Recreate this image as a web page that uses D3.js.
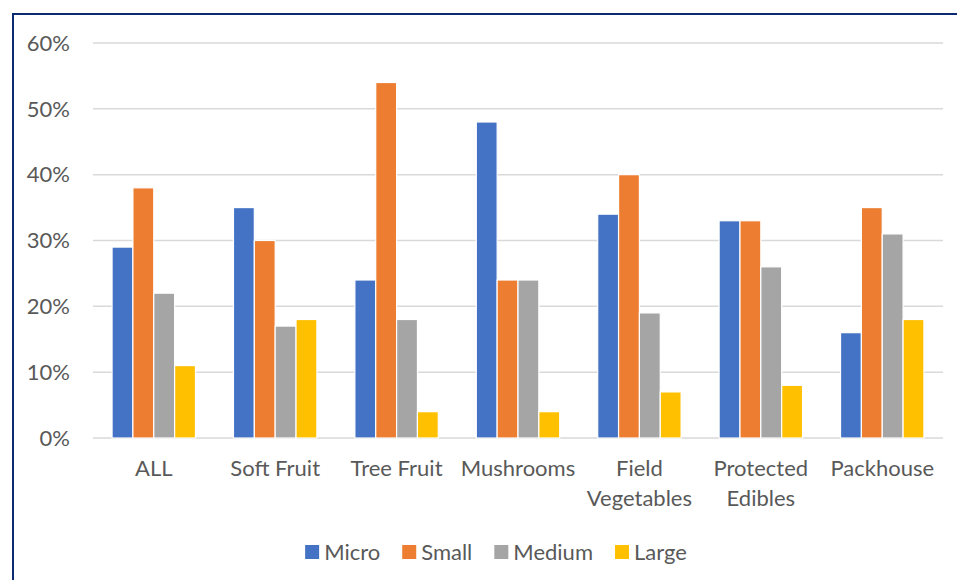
<!DOCTYPE html>
<style>
body {
  margin: 0;
  background: #fff;
}
svg {
  display: block;
  font-family: Lato, "Open Sans", sans-serif;
}
.frame {
  fill: #fff;
  stroke: #0b2a6f;
  stroke-width: 2;
}
.grid line {
  stroke: #d9d9d9;
  stroke-width: 1.5;
}
.label {
  fill: #595959;
  font-size: 22px;
}
.bar {
  stroke: #fff;
  stroke-width: 1.2;
}
</style>
<svg width="957" height="580"></svg>
<script src="https://d3js.org/d3.v7.min.js"></script>
<script>

var categories = ["ALL", "Soft Fruit", "Tree Fruit", "Mushrooms", "Field Vegetables", "Protected Edibles", "Packhouse"],
    seriesNames = ["Micro", "Small", "Medium", "Large"],
    colors = ["#4472c4", "#ed7d31", "#a5a5a5", "#ffc000"],
    micro = [29, 35, 24, 48, 34, 33, 16],
    small = [38, 30, 54, 24, 40, 33, 35],
    medium = [22, 17, 18, 24, 19, 26, 31],
    large = [11, 18, 4, 4, 7, 8, 18],
    yTicks = [0, 10, 20, 30, 40, 50, 60];

var series = [micro, small, medium, large];

var svg = d3.select("svg"),
    plotLeft = 93,
    plotRight = 943,
    plotTop = 43,
    plotBottom = 438;

// outer frame, only left and top edges show in the picture
svg.append("rect")
  .attr("class", "frame")
  .attr("x", 13)
  .attr("y", 14)
  .attr("width", 1000)
  .attr("height", 700);

var y = d3.scaleLinear().domain([0, 60]).range([plotBottom, plotTop]);

var x0 = d3.scaleBand()
  .domain(categories)
  .range([plotLeft, plotRight])
  .paddingInner(0.313)
  .paddingOuter(0.157);

var x1 = d3.scaleBand()
  .domain(d3.range(seriesNames.length))
  .range([0, x0.bandwidth()]);

svg.append("g")
  .attr("class", "grid")
  .selectAll("line")
  .data(yTicks)
  .join("line")
  .attr("x1", plotLeft)
  .attr("x2", plotRight)
  .attr("y1", d => y(d))
  .attr("y2", d => y(d));

svg.append("g")
  .selectAll("text")
  .data(yTicks)
  .join("text")
  .attr("class", "label")
  .attr("x", 70)
  .attr("y", d => y(d))
  .attr("dy", "0.35em")
  .attr("text-anchor", "end")
  .text(d => d + "%");

var groups = svg.append("g")
  .selectAll("g")
  .data(categories)
  .join("g")
  .attr("transform", d => "translate(" + x0(d) + ",0)");

groups.selectAll("rect")
  .data((c, i) => series.map((s, k) => ({ k: k, v: s[i] })))
  .join("rect")
  .attr("class", "bar")
  .attr("x", d => x1(d.k))
  .attr("width", x1.bandwidth())
  .attr("y", d => y(d.v))
  .attr("height", d => y(0) - y(d.v))
  .attr("fill", d => colors[d.k]);

// category labels, two words wrap to two lines where Excel did
var catLabels = svg.append("g")
  .selectAll("text")
  .data(categories)
  .join("text")
  .attr("class", "label")
  .attr("text-anchor", "middle")
  .attr("y", 476);

catLabels.each(function(d) {
  var words = d.split(" "),
      lines = (d == "Field Vegetables" || d == "Protected Edibles") ? words : [d],
      el = d3.select(this),
      cx = x0(d) + x0.bandwidth() / 2;
  lines.forEach((w, i) => {
    el.append("tspan")
      .attr("x", cx)
      .attr("dy", i == 0 ? 0 : 29.5)
      .text(w);
  });
});

// legend
var legend = svg.append("g").attr("transform", "translate(0,552)");
var items = legend.selectAll("g")
  .data(seriesNames)
  .join("g");

items.append("rect")
  .attr("width", 14)
  .attr("height", 14)
  .attr("y", -7)
  .attr("fill", (d, i) => colors[i]);

items.append("text")
  .attr("class", "label")
  .attr("x", 19)
  .attr("dy", "0.35em")
  .text(d => d);

var pos = 0, offsets = [];
items.each(function() {
  offsets.push(pos);
  pos += 19 + d3.select(this).select("text").node().getComputedTextLength() + 22;
});
var total = pos - 22,
    start = 496 - total / 2;
items.attr("transform", (d, i) => "translate(" + (start + offsets[i]) + ",0)");

</script>
